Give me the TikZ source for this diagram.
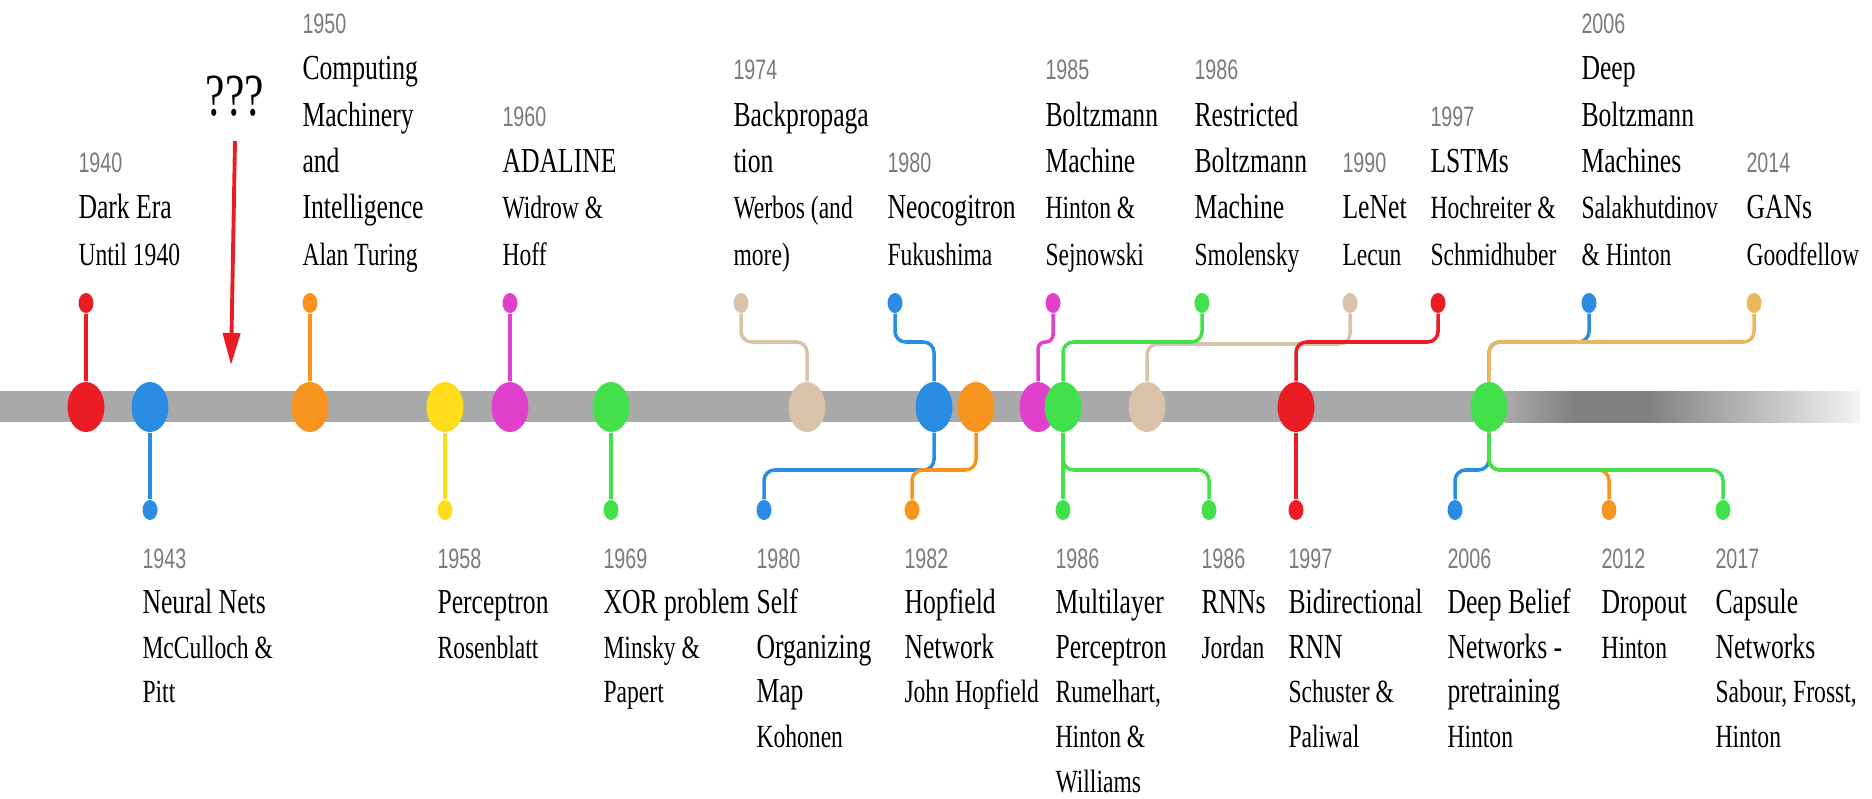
\documentclass[tikz,border=0pt]{standalone}
\usepackage{xcolor}
\usepackage{fontspec}
\setmainfont[FakeStretch=0.73]{Liberation Serif}
\newfontfamily\yrfam[FakeStretch=0.7]{Liberation Sans}
\usepackage{tikz}
\usetikzlibrary{shapes.geometric,arrows.meta}

\definecolor{evRed}{HTML}{EC1C24}
\definecolor{evBlue}{HTML}{2A8CE2}
\definecolor{evOrange}{HTML}{F7941E}
\definecolor{evYellow}{HTML}{FFDC1A}
\definecolor{evPink}{HTML}{E040CB}
\definecolor{evGreen}{HTML}{42E04A}
\definecolor{evTan}{HTML}{D8C2A9}
\definecolor{evGold}{HTML}{E9B75C}
\definecolor{barGray}{HTML}{A9A9A9}
\definecolor{barDark}{HTML}{808080}
\definecolor{barEnd}{HTML}{F4F4F4}
\definecolor{yrGray}{HTML}{7A7A7A}

\pgfdeclarehorizontalshading{barfade}{100bp}{color(0bp)=(barGray); color(25bp)=(barGray);
  color(35bp)=(barDark); color(45bp)=(barDark); color(75bp)=(barEnd); color(100bp)=(barEnd)}

\newcommand{\yr}[1]{{\yrfam\fontsize{8}{10}\selectfont\color{yrGray}\rule[-3pt]{0pt}{11pt}#1}}
\newcommand{\au}[1]{{\fontsize{9.2}{11}\selectfont\rule[-3pt]{0pt}{11pt}#1}}

\tikzset{
  big/.style={ellipse, fill=#1, inner sep=0pt, minimum width=3.7mm, minimum height=5mm},
  knob/.style={ellipse, fill=#1, inner sep=0pt, minimum width=1.5mm, minimum height=2mm},
  link/.style={draw=#1, line width=1pt, rounded corners=3pt},
  lblup/.style={align=left, inner sep=0pt, anchor=south west, font=\fontsize{10}{13.2}\selectfont},
  lbldn/.style={align=left, inner sep=0pt, anchor=north west, font=\fontsize{10}{12.7}\selectfont}
}

\begin{document}
\begin{tikzpicture}[x=0.1mm, y=-0.1mm]
\useasboundingbox (0,0) rectangle (1872,799);
\coordinate (hiY) at (0,342);
\coordinate (hiY2) at (0,344);
\coordinate (loY) at (0,470);
\coordinate (upTxt) at (0,276.5);
\coordinate (dnTxt) at (0,540);

\fill[barGray] (0,391) rectangle (1506,422);
\shade[shading=barfade] (1505,391) rectangle (1860,422);

\node[big=evRed] (e40) at (86,407) {};
\node[big=evBlue] (e43) at (150,407) {};
\node[big=evOrange] (e50) at (310,407) {};
\node[big=evYellow] (e58) at (445,407) {};
\node[big=evPink] (e60) at (510,407) {};
\node[big=evGreen] (e69) at (611,407) {};
\node[big=evTan] (e74) at (807,407) {};
\node[big=evBlue] (e80) at (934,407) {};
\node[big=evOrange] (e82) at (976,407) {};
\node[big=evPink] (e85) at (1038,407) {};
\node[big=evGreen] (e86) at (1063,407) {};
\node[big=evTan] (e90) at (1147,407) {};
\node[big=evRed] (e97) at (1296,407) {};
\node[big=evGreen] (e06) at (1489,407) {};

\node[knob=evRed] (u40) at (86,303) {};
\node[knob=evOrange] (u50) at (310,303) {};
\node[knob=evPink] (u60) at (510,303) {};
\node[knob=evTan] (u74) at (741,303) {};
\node[knob=evBlue] (u80) at (895,303) {};
\node[knob=evPink] (u85) at (1053,303) {};
\node[knob=evGreen] (u86) at (1202,303) {};
\node[knob=evTan] (u90) at (1350,303) {};
\node[knob=evRed] (u97) at (1438,303) {};
\node[knob=evBlue] (u06) at (1589,303) {};
\node[knob=evGold] (u14) at (1754,303) {};

\node[knob=evBlue] (d43) at (150,510) {};
\node[knob=evYellow] (d58) at (445,510) {};
\node[knob=evGreen] (d69) at (611,510) {};
\node[knob=evBlue] (d80) at (764,510) {};
\node[knob=evOrange] (d82) at (912,510) {};
\node[knob=evGreen] (d86a) at (1063,510) {};
\node[knob=evGreen] (d86b) at (1209,510) {};
\node[knob=evRed] (d97) at (1296,510) {};
\node[knob=evBlue] (d06) at (1455,510) {};
\node[knob=evOrange] (d12) at (1609,510) {};
\node[knob=evGreen] (d17) at (1723,510) {};

\draw[link=evRed] (u40) -- (e40);
\draw[link=evOrange] (u50) -- (e50);
\draw[link=evPink] (u60) -- (e60);
\draw[link=evTan] (u74) -- (u74 |- hiY) -- (e74 |- hiY) -- (e74);
\draw[link=evBlue] (u80) -- (u80 |- hiY) -- (e80 |- hiY) -- (e80);
\draw[link=evPink, rounded corners=2pt] (u85) -- (u85 |- hiY) -- (e85 |- hiY) -- (e85);
\draw[link=evTan] (u90) -- (u90 |- hiY2) -- (e90 |- hiY2) -- (e90);
\draw[link=evGreen] (u86) -- (u86 |- hiY) -- (e86 |- hiY) -- (e86);
\draw[link=evRed] (u97) -- (u97 |- hiY) -- (e97 |- hiY) -- (e97);
\draw[link=evBlue] (u06) -- (u06 |- hiY) -- (e06 |- hiY) -- (e06);
\draw[link=evGold] (u14) -- (u14 |- hiY) -- (e06 |- hiY) -- (e06);

\draw[link=evBlue] (e43) -- (d43);
\draw[link=evYellow] (e58) -- (d58);
\draw[link=evGreen] (e69) -- (d69);
\draw[link=evBlue] (e80) -- (e80 |- loY) -- (d80 |- loY) -- (d80);
\draw[link=evOrange] (e82) -- (e82 |- loY) -- (d82 |- loY) -- (d82);
\draw[link=evGreen] (e86) -- (d86a);
\draw[link=evGreen] (e86) -- (e86 |- loY) -- (d86b |- loY) -- (d86b);
\draw[link=evRed] (e97) -- (d97);
\draw[link=evBlue] (e06) -- (e06 |- loY) -- (d06 |- loY) -- (d06);
\draw[link=evOrange] (e06) -- (e06 |- loY) -- (d12 |- loY) -- (d12);
\draw[link=evGreen] (e06) -- (e06 |- loY) -- (d17 |- loY) -- (d17);

\node[lblup] (t40) at (u40.west |- upTxt) {\yr{1940}\\Dark Era\\\au{Until 1940}};
\node[lblup] (t50) at (u50.west |- upTxt) {\yr{1950}\\Computing\\Machinery\\and\\Intelligence\\\au{Alan Turing}};
\node[lblup] (t60) at (u60.west |- upTxt) {\yr{1960}\\ADALINE\\\au{Widrow \&}\\\au{Hoff}};
\node[lblup] (t74) at (u74.west |- upTxt) {\yr{1974}\\Backpropaga\\tion\\\au{Werbos (and}\\\au{more)}};
\node[lblup] (t80) at (u80.west |- upTxt) {\yr{1980}\\Neocogitron\\\au{Fukushima}};
\node[lblup] (t85) at (u85.west |- upTxt) {\yr{1985}\\Boltzmann\\Machine\\\au{Hinton \&}\\\au{Sejnowski}};
\node[lblup] (t86) at (u86.west |- upTxt) {\yr{1986}\\Restricted\\Boltzmann\\Machine\\\au{Smolensky}};
\node[lblup] (t90) at (u90.west |- upTxt) {\yr{1990}\\LeNet\\\au{Lecun}};
\node[lblup] (t97) at (u97.west |- upTxt) {\yr{1997}\\LSTMs\\\au{Hochreiter \&}\\\au{Schmidhuber}};
\node[lblup] (t06) at (u06.west |- upTxt) {\yr{2006}\\Deep\\Boltzmann\\Machines\\\au{Salakhutdinov}\\\au{\& Hinton}};
\node[lblup] (t14) at (u14.west |- upTxt) {\yr{2014}\\GANs\\\au{Goodfellow}};

\node[lbldn] (b43) at (d43.west |- dnTxt) {\yr{1943}\\Neural Nets\\\au{McCulloch \&}\\\au{Pitt}};
\node[lbldn] (b58) at (d58.west |- dnTxt) {\yr{1958}\\Perceptron\\\au{Rosenblatt}};
\node[lbldn] (b69) at (d69.west |- dnTxt) {\yr{1969}\\XOR problem\\\au{Minsky \&}\\\au{Papert}};
\node[lbldn] (b80) at (d80.west |- dnTxt) {\yr{1980}\\Self\\Organizing\\Map\\\au{Kohonen}};
\node[lbldn] (b82) at (d82.west |- dnTxt) {\yr{1982}\\Hopfield\\Network\\\au{John Hopfield}};
\node[lbldn] (b86a) at (d86a.west |- dnTxt) {\yr{1986}\\Multilayer\\Perceptron\\\au{Rumelhart,}\\\au{Hinton \&}\\\au{Williams}};
\node[lbldn] (b86b) at (d86b.west |- dnTxt) {\yr{1986}\\RNNs\\\au{Jordan}};
\node[lbldn] (b97) at (d97.west |- dnTxt) {\yr{1997}\\Bidirectional\\RNN\\\au{Schuster \&}\\\au{Paliwal}};
\node[lbldn] (b06) at (d06.west |- dnTxt) {\yr{2006}\\Deep Belief\\Networks -\\pretraining\\\au{Hinton}};
\node[lbldn] (b12) at (d12.west |- dnTxt) {\yr{2012}\\Dropout\\\au{Hinton}};
\node[lbldn] (b17) at (d17.west |- dnTxt) {\yr{2017}\\Capsule\\Networks\\\au{Sabour, Frosst,}\\\au{Hinton}};

\node[font=\fontsize{17}{20}\selectfont] (qq) at (235,96) {???};
\coordinate (arTop) at (235,141);
\coordinate (arTip) at (231,365);
\draw[evRed, line width=1.1pt, -{Triangle[length=3.2mm, width=1.7mm]}] (arTop) -- (arTip);
\end{tikzpicture}
\end{document}
